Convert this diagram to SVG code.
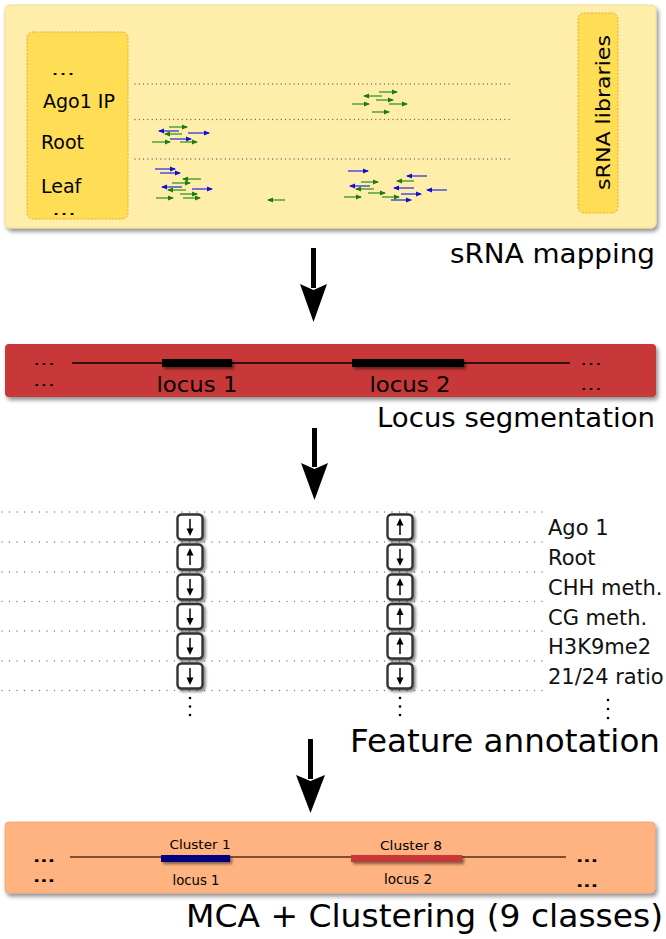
<svg xmlns="http://www.w3.org/2000/svg" xmlns:xlink="http://www.w3.org/1999/xlink" width="666" height="939" viewBox="0 0 666 939">
<style>
text{font-family:"DejaVu Sans","Liberation Sans",sans-serif;fill:#000}
.title{font-size:26px}
.big{font-size:32px}
.lib{font-size:19px}
.feat{font-size:21px;fill:#111}
.dots{fill:none;stroke:#666;stroke-width:1.3;stroke-linecap:round;stroke-dasharray:0 4.3}
.fdots{fill:none;stroke:#777;stroke-width:1.4;stroke-linecap:round;stroke-dasharray:0 7.5}
.g{stroke:#3c9c2c;stroke-width:1.6;fill:none;marker-end:url(#gh);stroke-opacity:.85}
.b{stroke:#3a3ae0;stroke-width:1.6;fill:none;marker-end:url(#bh);stroke-opacity:.85}
.fbox{fill:#fff;stroke:#333;stroke-width:2.4}
.farr{stroke:#000;stroke-width:1.5;fill:none}
.ell{font-size:15px}
.ell2{font-size:14px;font-weight:bold}
</style>
<defs>
<filter id="sh" x="-3%" y="-10%" width="108%" height="130%">
<feGaussianBlur in="SourceAlpha" stdDeviation="2"/>
<feOffset dx="2" dy="3"/>
<feComponentTransfer><feFuncA type="linear" slope="0.45"/></feComponentTransfer>
<feMerge><feMergeNode/><feMergeNode in="SourceGraphic"/></feMerge>
</filter>
<filter id="bsh" x="-20%" y="-40%" width="150%" height="250%">
<feGaussianBlur in="SourceAlpha" stdDeviation="1.5"/>
<feOffset dx="2" dy="2"/>
<feComponentTransfer><feFuncA type="linear" slope="0.5"/></feComponentTransfer>
<feMerge><feMergeNode/><feMergeNode in="SourceGraphic"/></feMerge>
</filter>
<marker id="gh" viewBox="0 0 6 6" refX="5" refY="3" markerWidth="6" markerHeight="6" markerUnits="userSpaceOnUse" orient="auto"><path d="M0,0.5 L6,3 L0,5.5Z" fill="#1e7a12"/></marker>
<marker id="bh" viewBox="0 0 6 6" refX="5" refY="3" markerWidth="6" markerHeight="6" markerUnits="userSpaceOnUse" orient="auto"><path d="M0,0.5 L6,3 L0,5.5Z" fill="#1010d0"/></marker>
<g id="bd"><rect x="-12.5" y="-12.5" width="25" height="25" rx="4" class="fbox"/><path d="M0,-8V3" class="farr"/><path d="M-3.5,1.5 L3.5,1.5 L0,9Z"/></g>
<g id="bu"><rect x="-12.5" y="-12.5" width="25" height="25" rx="4" class="fbox"/><path d="M0,8V-3" class="farr"/><path d="M-3.5,-1.5 L3.5,-1.5 L0,-9Z"/></g>
</defs>
<rect width="666" height="939" fill="#fff"/>

<!-- Stage 1: sRNA mapping -->
<g id="mapping">
<rect x="5" y="5" width="651" height="223" rx="5" fill="#ffeeaa" stroke="#f3dd90" stroke-width="1" filter="url(#sh)"/>
<g id="libraries-left">
<rect x="27" y="32" width="101" height="187" rx="6" fill="#ffdd55" stroke="#eea830" stroke-width="1" stroke-dasharray="2 1.5"/>
<text x="51" y="75" class="ell" textLength="24" lengthAdjust="spacingAndGlyphs">...</text>
<text x="43" y="108" class="lib">Ago1 IP</text>
<text x="41" y="149" class="lib">Root</text>
<text x="41" y="193" class="lib">Leaf</text>
<text x="52" y="215" class="ell" textLength="24" lengthAdjust="spacingAndGlyphs">...</text>
</g>
<g id="libraries-right">
<rect x="578" y="13" width="40" height="200" rx="6" fill="#ffdd55" stroke="#eea830" stroke-width="1" stroke-dasharray="2 1.5"/>
<text transform="translate(610,112.5) rotate(-90)" text-anchor="middle" font-size="20" textLength="155" lengthAdjust="spacingAndGlyphs">sRNA libraries</text>
</g>
<path class="dots" d="M135,84H512M135,119.5H512M135,159H512"/>
<g id="reads">
<path class="g" d="M379,92H397"/><path class="g" d="M382,96H364"/><path class="g" d="M376,100H393"/>
<path class="g" d="M352,104H369"/><path class="g" d="M389,104H407"/><path class="g" d="M372,112H389"/>
<path class="g" d="M169,127H187"/><path class="g" d="M182,134H165"/><path class="g" d="M152,142H170"/><path class="g" d="M180,142H197"/>
<path class="b" d="M179,131H159"/><path class="b" d="M188,133H209"/><path class="b" d="M170,139H191"/>
<path class="b" d="M155,169H175"/><path class="b" d="M160,173H180"/><path class="b" d="M182,187H162"/><path class="b" d="M192,189H212"/>
<path class="g" d="M201,179H183"/><path class="g" d="M172,183H190"/><path class="g" d="M186,190H168"/><path class="g" d="M180,194H197"/>
<path class="g" d="M156,198H173"/><path class="g" d="M183,198H200"/><path class="g" d="M285,200H268"/>
<path class="b" d="M348,171H368"/><path class="b" d="M427,176H407"/><path class="b" d="M370,186H350"/><path class="b" d="M414,188H394"/>
<path class="b" d="M447,190H427"/><path class="b" d="M401,194H421"/><path class="b" d="M391,200H411"/>
<path class="g" d="M414,181H397"/><path class="g" d="M361,182H378"/><path class="g" d="M374,189H356"/>
<path class="g" d="M368,193H385"/><path class="g" d="M344,197H361"/><path class="g" d="M382,197H399"/>
</g>
</g>
<text id="label-mapping" x="655" y="263" text-anchor="end" class="title" textLength="205" lengthAdjust="spacingAndGlyphs">sRNA mapping</text>

<!-- Stage 2: Locus segmentation -->
<g id="segmentation">
<rect x="5" y="344" width="651" height="53" rx="4" fill="#c83737" filter="url(#sh)"/>
<path d="M72,363H570" stroke="#000" stroke-width="1.5"/>
<rect x="162" y="359" width="70" height="8" fill="#000" filter="url(#bsh)"/>
<rect x="352" y="359" width="112" height="8" fill="#000" filter="url(#bsh)"/>
<text x="197" y="392" text-anchor="middle" font-size="22" textLength="81" lengthAdjust="spacingAndGlyphs">locus 1</text>
<text x="410" y="392" text-anchor="middle" font-size="22" textLength="81" lengthAdjust="spacingAndGlyphs">locus 2</text>
<text x="33" y="365" class="ell" textLength="22" lengthAdjust="spacingAndGlyphs">...</text>
<text x="33" y="386" class="ell" textLength="22" lengthAdjust="spacingAndGlyphs">...</text>
<text x="580" y="365" class="ell" textLength="22" lengthAdjust="spacingAndGlyphs">...</text>
<text x="580" y="390" class="ell" textLength="22" lengthAdjust="spacingAndGlyphs">...</text>
</g>
<text id="label-segmentation" x="655" y="427" text-anchor="end" class="title" textLength="278" lengthAdjust="spacingAndGlyphs">Locus segmentation</text>

<!-- Stage 3: Feature annotation -->
<g id="annotation">
<path class="fdots" d="M2,512H548M2,542H545M2,572H545M2,601.5H545M2,631H545M2,661H545M2,690.5H545"/>
<g id="locus1-features" filter="url(#bsh)">
<use xlink:href="#bd" x="190" y="527"/>
<use xlink:href="#bu" x="190" y="557"/>
<use xlink:href="#bd" x="190" y="587"/>
<use xlink:href="#bd" x="190" y="616.5"/>
<use xlink:href="#bd" x="190" y="646"/>
<use xlink:href="#bd" x="190" y="676"/>
</g>
<g id="locus2-features" filter="url(#bsh)">
<use xlink:href="#bu" x="400" y="527"/>
<use xlink:href="#bd" x="400" y="557"/>
<use xlink:href="#bu" x="400" y="587"/>
<use xlink:href="#bu" x="400" y="616.5"/>
<use xlink:href="#bu" x="400" y="646"/>
<use xlink:href="#bd" x="400" y="676"/>
</g>
<g fill="#000">
<circle cx="190" cy="698" r="1.3"/><circle cx="190" cy="706.5" r="1.3"/><circle cx="190" cy="715" r="1.3"/>
<circle cx="400" cy="698" r="1.3"/><circle cx="400" cy="706.5" r="1.3"/><circle cx="400" cy="715" r="1.3"/>
<circle cx="608" cy="700" r="1.3"/><circle cx="608" cy="709" r="1.3"/><circle cx="608" cy="718" r="1.3"/>
</g>
<g id="feature-names">
<text x="548" y="535" class="feat">Ago 1</text>
<text x="548" y="565" class="feat">Root</text>
<text x="548" y="595" class="feat">CHH meth.</text>
<text x="548" y="625" class="feat">CG meth.</text>
<text x="548" y="654" class="feat">H3K9me2</text>
<text x="548" y="684" class="feat">21/24 ratio</text>
</g>
</g>
<text id="label-annotation" x="350" y="752" class="big" textLength="310" lengthAdjust="spacingAndGlyphs">Feature annotation</text>

<!-- Stage 4: MCA + Clustering -->
<g id="clustering">
<rect x="5" y="822" width="650" height="71" rx="4" fill="#ffb380" stroke="#f0a070" stroke-width="0.8" filter="url(#sh)"/>
<path d="M70,857H566" stroke="#50301a" stroke-width="1.5"/>
<rect x="161" y="855" width="69" height="7" fill="#000080" filter="url(#bsh)"/>
<rect x="351" y="855" width="111" height="7" fill="#c83737" filter="url(#bsh)"/>
<text x="200" y="849" text-anchor="middle" font-size="13" textLength="61" lengthAdjust="spacingAndGlyphs">Cluster 1</text>
<text x="411" y="850" text-anchor="middle" font-size="13" textLength="62" lengthAdjust="spacingAndGlyphs">Cluster 8</text>
<text x="196" y="885" text-anchor="middle" font-size="13.5" textLength="47" lengthAdjust="spacingAndGlyphs">locus 1</text>
<text x="408" y="884" text-anchor="middle" font-size="13.5" textLength="48" lengthAdjust="spacingAndGlyphs">locus 2</text>
<text x="33" y="862" class="ell2" textLength="22" lengthAdjust="spacingAndGlyphs">...</text>
<text x="33" y="882" class="ell2" textLength="22" lengthAdjust="spacingAndGlyphs">...</text>
<text x="576" y="862" class="ell2" textLength="22" lengthAdjust="spacingAndGlyphs">...</text>
<text x="576" y="887" class="ell2" textLength="22" lengthAdjust="spacingAndGlyphs">...</text>
</g>
<text id="label-clustering" x="186" y="927" class="big" textLength="477" lengthAdjust="spacingAndGlyphs">MCA + Clustering (9 classes)</text>

<!-- Connectors -->
<g id="connectors" fill="#000">
<path d="M311,248H316V288H311Z M300,284 L313.5,290 L327,284 L313.5,322Z"/>
<path d="M312,428H317V467H312Z M301,463 L314.5,469 L328,463 L314.5,500Z"/>
<path d="M308,739H313V779H308Z M296,775 L310.5,781 L325,775 L310.5,813Z"/>
</g>
</svg>
